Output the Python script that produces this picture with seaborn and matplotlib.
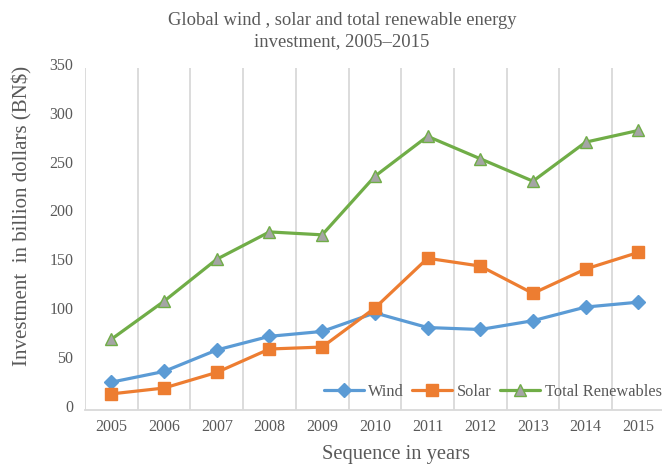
import matplotlib
matplotlib.use("Agg")
import matplotlib.pyplot as plt
import matplotlib.transforms as mtransforms
import seaborn as sns
import pandas as pd
import numpy as np

years = ["2005", "2006", "2007", "2008", "2009", "2010", "2011", "2012", "2013", "2014", "2015"]
wind = [28, 39, 61, 75, 80, 99, 84, 82, 91, 105, 110]
solar = [16, 22, 38, 62, 64, 104, 155, 147, 119, 144, 161]
total = [72, 111, 154, 182, 179, 239, 280, 257, 234, 274, 286]
series = ["Wind", "Solar", "Total Renewables"]

df = pd.DataFrame({
    "x": list(range(len(years))) * 3,
    "value": wind + solar + total,
    "series": [series[0]] * len(years) + [series[1]] * len(years) + [series[2]] * len(years),
})

sns.set_theme(style="white")
plt.rcParams["font.family"] = ["Liberation Serif", "DejaVu Serif"]
grey = "#595959"

W, H = 662, 466
fig = plt.figure(figsize=(W / 100, H / 100), dpi=100)
left, right, top, bottom = 85.0, 664.7, 68.0, 409.5
ax = fig.add_axes([left / W, 1 - bottom / H, (right - left) / W, (bottom - top) / H])

colors = {"Wind": "#5B9BD5", "Solar": "#ED7D31", "Total Renewables": "#70AD47"}
markers = {"Wind": "D", "Solar": "s", "Total Renewables": "^"}
sizes_m = {"Wind": 7.5, "Solar": 8.5, "Total Renewables": 8.5}
for s in series:
    sub = df[df["series"] == s]
    sns.lineplot(data=sub, x="x", y="value", ax=ax, color=colors[s], linewidth=2.3,
                 marker=markers[s], markersize=sizes_m[s],
                 markerfacecolor=("#A5A5A5" if s == "Total Renewables" else colors[s]),
                 markeredgecolor=colors[s], markeredgewidth=1, label=s)

ax.set_xlim(-0.5, 10.5)
ax.set_ylim(0, 350)
ax.set_xticks(range(len(years)))
ax.set_xticklabels(years)
ax.set_xticks(np.arange(-0.5, 11, 1), minor=True)
ax.set_yticks(range(0, 351, 50))
ax.grid(False)
ax.grid(True, which="minor", axis="x", color="#D9D9D9", linewidth=1.3)
ax.tick_params(axis="both", which="both", length=0, colors=grey, labelsize=11.5)
ax.tick_params(axis="x", pad=7)
ax.tick_params(axis="y", pad=8.5)
offset = mtransforms.ScaledTranslation(0, 0.04, fig.dpi_scale_trans)
for lbl in ax.get_yticklabels():
    lbl.set_transform(lbl.get_transform() + offset)
for sp in ["top", "right", "left"]:
    ax.spines[sp].set_visible(False)
ax.spines["bottom"].set_color("#D9D9D9")
ax.spines["bottom"].set_linewidth(1.3)

ax.set_xlabel("Sequence in years", fontsize=14.8, color=grey)
ax.set_ylabel("Investment  in billion dollars (BN$)", fontsize=15, color=grey)
ax.xaxis.set_label_coords(0.5365, -0.104)
ax.yaxis.set_label_coords(-0.09, 0.567)

fig.text(342 / W, 1 - 12 / H, "Global wind , solar and total renewable energy\ninvestment, 2005\u20132015",
         ha="center", va="top", fontsize=13.4, color=grey, linespacing=1.3)

leg = ax.legend(loc="center right", bbox_to_anchor=(1.0, 1 - 392 / H),
                bbox_transform=fig.transFigure, ncol=3, frameon=False,
                fontsize=11.8, handlelength=2.44, columnspacing=0.5, handletextpad=0.3,
                borderaxespad=0, borderpad=0)
for t in leg.get_texts():
    t.set_color(grey)

fig.savefig("out.png", dpi=100)
